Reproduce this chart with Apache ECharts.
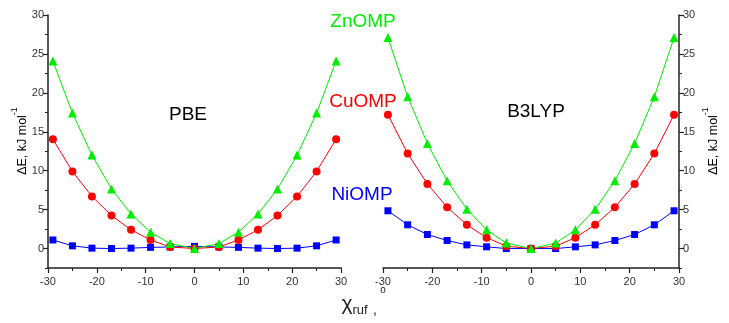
<!DOCTYPE html>
<html>
<head>
<meta charset="utf-8">
<script src="https://cdn.jsdelivr.net/npm/echarts@6/dist/echarts.min.js"></script>
<style>
  html, body { margin: 0; padding: 0; background: #fff; }
  #chart { width: 729px; height: 323px; }
</style>
</head>
<body>
<div id="chart"></div>
<script>
// ruffling angle, degrees
const chi = [-29, -25, -21, -17, -13, -9, -5, 0, 5, 9, 13, 17, 21, 25, 29];

// PBE, kJ/mol
const pbeZn = [24.1, 17.4, 12.0, 7.65, 4.45, 2.1, 0.64, 0, 0.64, 2.1, 4.45, 7.65, 12.0, 17.4, 24.1];
const pbeCu = [14.05, 9.9, 6.7, 4.25, 2.4, 1.1, 0.2, 0, 0.2, 1.1, 2.4, 4.25, 6.7, 9.9, 14.05];
const pbeNi = [1.1, 0.35, 0.05, 0, 0.05, 0.15, 0.2, 0.28, 0.2, 0.15, 0.05, 0, 0.05, 0.35, 1.1];

// B3LYP, kJ/mol
const b3Zn = [27.1, 19.5, 13.5, 8.7, 5.05, 2.4, 0.7, 0, 0.7, 2.4, 5.05, 8.7, 13.5, 19.5, 27.1];
const b3Cu = [17.2, 12.2, 8.3, 5.3, 3.05, 1.4, 0.3, 0, 0.3, 1.4, 3.05, 5.3, 8.3, 12.2, 17.2];
const b3Ni = [4.85, 3.05, 1.8, 1.03, 0.47, 0.22, 0, 0, 0, 0.22, 0.47, 1.03, 1.8, 3.05, 4.85];

const yLabels = [0, 5, 10, 15, 20, 25, 30];

const FONT = "'Liberation Sans', Arial, sans-serif";
const AXIS = '#222';
const GREEN = '#00ee00', RED = '#ff0000', BLUE = '#0000ff';

const pairs = vals => chi.map((x, i) => [x, vals[i]]);

function xAxis(gridIndex) {
  return {
    type: 'value', gridIndex, min: -30, max: 30, interval: 10,
    axisLine: { onZero: false, lineStyle: { color: AXIS, width: 1.5 } },
    axisTick: { length: 5, lineStyle: { color: AXIS, width: 1.2 } },
    minorTick: { show: true, splitNumber: 2, length: 3, lineStyle: { color: AXIS } },
    axisLabel: { color: '#333', fontSize: 11, fontFamily: FONT, margin: 8 },
    splitLine: { show: false }
  };
}

// two y axes per panel: one for short minor ticks, one for major ticks and labels
function yAxes(gridIndex, position) {
  return [
    {
      type: 'value', gridIndex, position, min: -2.5, max: 30, interval: 2.5,
      axisLine: { show: true, onZero: false, lineStyle: { color: AXIS, width: 1.5 } },
      axisTick: { show: true, length: 3, lineStyle: { color: AXIS } },
      axisLabel: { show: false },
      splitLine: { show: false }
    },
    {
      type: 'value', gridIndex, position, min: -2.5, max: 30, interval: 2.5,
      axisLine: { show: false, onZero: false },
      axisTick: { show: true, length: 5, customValues: yLabels, lineStyle: { color: AXIS, width: 1.2 } },
      axisLabel: { show: true, customValues: yLabels, color: '#333', fontSize: 11, fontFamily: FONT, margin: 4 },
      splitLine: { show: false }
    }
  ];
}

function line(name, vals, color, symbol, size, xi, yi) {
  return {
    name, type: 'line', xAxisIndex: xi, yAxisIndex: yi,
    data: pairs(vals),
    symbol, symbolSize: size,
    itemStyle: { color },
    lineStyle: { color, width: 1 },
    silent: true, animation: false
  };
}

const yLabelRich = {
  m: { fontSize: 12.5, fontFamily: FONT, color: '#222', lineHeight: 19, verticalAlign: 'bottom' },
  s: { fontSize: 9, fontFamily: FONT, color: '#222', lineHeight: 9, verticalAlign: 'top' }
};

function tx(text, x, y, size, color, extra) {
  return Object.assign({
    type: 'text', x, y, silent: true,
    style: { text, fontSize: size, fontFamily: FONT, fill: color, align: 'center', verticalAlign: 'middle' }
  }, extra || {});
}

const chart = echarts.init(document.getElementById('chart'), null, { renderer: 'canvas' });
chart.setOption({
  animation: false,
  backgroundColor: '#fff',
  grid: [
    { left: 48, top: 15, width: 293, height: 253 },
    { left: 383, top: 15, width: 296, height: 253 }
  ],
  xAxis: [xAxis(0), xAxis(1)],
  yAxis: [...yAxes(0, 'left'), ...yAxes(1, 'right')],
  series: [
    line('NiOMP PBE', pbeNi, BLUE, 'rect', 7, 0, 0),
    line('CuOMP PBE', pbeCu, RED, 'circle', 8, 0, 0),
    line('ZnOMP PBE', pbeZn, GREEN, 'triangle', 9, 0, 0),
    line('NiOMP B3LYP', b3Ni, BLUE, 'rect', 7, 1, 2),
    line('CuOMP B3LYP', b3Cu, RED, 'circle', 8, 1, 2),
    line('ZnOMP B3LYP', b3Zn, GREEN, 'triangle', 9, 1, 2)
  ],
  graphic: [
    tx('PBE', 188, 115, 19, '#000'),
    tx('B3LYP', 536, 112, 19, '#000'),
    tx('ZnOMP', 363, 22, 19, GREEN),
    tx('CuOMP', 363, 102, 19, RED),
    tx('NiOMP', 362, 195, 19, BLUE),
    {
      type: 'text', x: 20, y: 141, rotation: Math.PI / 2, silent: true,
      style: { text: '{m|ΔE, kJ mol}{s|-1}', rich: yLabelRich, align: 'center', verticalAlign: 'middle' }
    },
    {
      type: 'text', x: 711, y: 141, rotation: Math.PI / 2, silent: true,
      style: { text: '{m|ΔE, kJ mol}{s|-1}', rich: yLabelRich, align: 'center', verticalAlign: 'middle' }
    },
    tx('χ', 347, 304, 21, '#222'),
    tx('ruf', 360, 310, 13, '#222'),
    tx(',', 375, 310, 14, '#222'),
    tx('o', 383, 290, 10, '#222')
  ]
});
</script>
</body>
</html>
